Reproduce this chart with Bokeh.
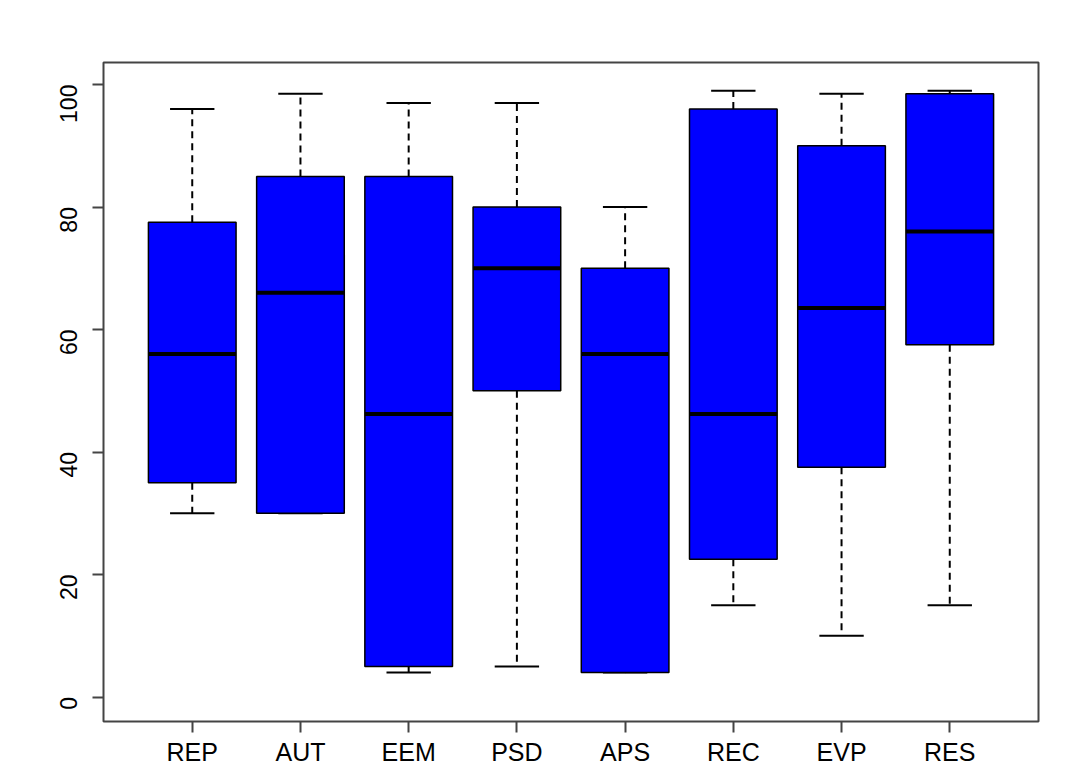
import numpy as np
from bokeh.plotting import figure
from bokeh.models import FixedTicker, Range1d
from bokeh.embed import file_html
from bokeh.resources import INLINE

categories = ["REP", "AUT", "EEM", "PSD", "APS", "REC", "EVP", "RES"]
lower_whisker = [30, 30, 4, 5, 4, 15, 10, 15]
q1 = [35, 30, 5, 50, 4, 22.5, 37.5, 57.5]
median = [56, 66, 46.2, 70, 56, 46.2, 63.5, 76]
q3 = [77.5, 85, 85, 80, 70, 96, 90, 98.5]
upper_whisker = [96, 98.5, 97, 97, 80, 99, 98.5, 99]
y_ticks = [0, 20, 40, 60, 80, 100]

x = np.arange(1, len(categories) + 1, dtype=float)
box_w = 0.81
cap_w = 0.41

p = figure(width=1059, height=768, output_backend="svg", toolbar_location=None,
           x_range=Range1d(0.18, 8.82), y_range=Range1d(-4, 103.6),
           min_border_left=103, min_border_right=21, min_border_top=62, min_border_bottom=47)
p.background_fill_color = "white"
p.border_fill_color = "white"
p.grid.visible = False
p.outline_line_color = "#444444"
p.outline_line_width = 2

# whiskers
p.segment(x0=x, y0=np.array(q3), x1=x, y1=np.array(upper_whisker),
          line_color="black", line_width=2, line_dash="7 5")
p.segment(x0=x, y0=np.array(q1), x1=x, y1=np.array(lower_whisker),
          line_color="black", line_width=2, line_dash="7 5")
# caps
p.segment(x0=x - cap_w / 2, y0=np.array(upper_whisker), x1=x + cap_w / 2, y1=np.array(upper_whisker),
          line_color="black", line_width=2)
p.segment(x0=x - cap_w / 2, y0=np.array(lower_whisker), x1=x + cap_w / 2, y1=np.array(lower_whisker),
          line_color="black", line_width=2)
# boxes
p.vbar(x=x, width=box_w, top=np.array(q3), bottom=np.array(q1),
       fill_color="#0000ff", line_color="black", line_width=1.5)
# medians
p.segment(x0=x - box_w / 2, y0=np.array(median), x1=x + box_w / 2, y1=np.array(median),
          line_color="black", line_width=4)

for ax in (p.xaxis[0], p.yaxis[0]):
    ax.axis_line_color = None
    ax.major_tick_line_color = "#444444"
    ax.major_tick_line_width = 2
    ax.major_tick_out = 11
    ax.major_tick_in = 0
    ax.minor_tick_line_color = None
    ax.major_label_text_font = "Liberation Sans"
    ax.major_label_text_color = "black"

p.xaxis.major_label_text_font_size = "25px"
p.yaxis.major_label_text_font_size = "23px"

p.xaxis.ticker = FixedTicker(ticks=list(x))
p.xaxis.major_label_overrides = {float(v): c for v, c in zip(x, categories)}
p.xaxis.major_label_overrides.update({int(v): c for v, c in zip(x, categories)})
p.xaxis.major_label_standoff = 5

p.yaxis.ticker = FixedTicker(ticks=y_ticks)
p.yaxis.major_label_orientation = np.pi / 2
p.yaxis.major_label_standoff = 24

open("out.html", "w").write(file_html(p, INLINE))
